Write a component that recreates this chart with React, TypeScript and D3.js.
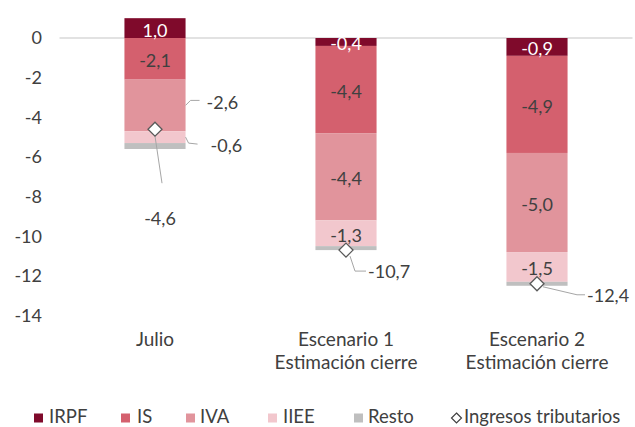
import React from "react";
import * as d3 from "d3";

// ---- data ----
const categories = ["Julio", "Escenario 1", "Escenario 2"];
const categoryLines = [["Julio"], ["Escenario 1", "Estimación cierre"], ["Escenario 2", "Estimación cierre"]];
const seriesNames = ["IRPF", "IS", "IVA", "IIEE", "Resto"];
const irpf = [1.0, -0.4, -0.9];
const is = [-2.1, -4.4, -4.9];
const iva = [-2.6, -4.4, -5.0];
const iiee = [-0.6, -1.3, -1.5];
const resto = [-0.3, -0.2, -0.2];
const totals = [-4.6, -10.7, -12.4];
const yTicks = [0, -2, -4, -6, -8, -10, -12, -14];
const totalLabel = "Ingresos tributarios";

const colors = ["#7F0A2B", "#D4606E", "#E1949C", "#F2C7CD", "#BFBFBF"];
const labelColors = ["#FFFFFF", "#404040", "#404040", "#404040", "#404040"];

const W = 635;
const H = 427;
const FONT = "Lato, 'Open Sans', sans-serif";
const TXT = "#404040";

const locale = d3.formatLocale({ decimal: ",", thousands: ".", grouping: [3], currency: ["", "€"], minus: "-" });
const fmt = locale.format(".1f");
const fmtAxis = locale.format("d");

export default function App() {
  const rows = categories.map((c, i) => ({
    cat: c,
    IRPF: irpf[i],
    IS: is[i],
    IVA: iva[i],
    IIEE: iiee[i],
    Resto: resto[i],
  }));
  const stacked = d3.stack<any>().keys(seriesNames).offset(d3.stackOffsetDiverging)(rows);

  const x = d3.scaleBand<string>().domain(categories).range([59.5, 632.5]).paddingInner(0.68).paddingOuter(0.34);
  const y = d3.scaleLinear().domain([-14, 0]).range([315.5, 38]);
  const bw = x.bandwidth();
  const cx = (c: string) => (x(c) as number) + bw / 2;

  // placement of some labels outside the bar (series index, category index) -> leader
  const outside: Record<string, { pts: [number, number][]; tx: number; ty: number }> = {
    "2-0": { pts: [[0, 0], [5, -5], [14, -5]], tx: 21, ty: -3 },
    "3-0": { pts: [[0, 0], [3, 6], [12, 7]], tx: 25, ty: 8 },
  };
  const totalLeaders = [
    { pts: [[0, 7], [7, 54]] as [number, number][], tx: 5, ty: 89, anchor: "middle" },
    { pts: [[4, 6], [9, 21], [20, 21]] as [number, number][], tx: 22, ty: 21, anchor: "start" },
    { pts: [[6, 3], [40, 11], [48, 11]] as [number, number][], tx: 50, ty: 12, anchor: "start" },
  ];

  const diamond = (px: number, py: number, rx: number, ry: number) =>
    `M${px},${py - ry}L${px + rx},${py}L${px},${py + ry}L${px - rx},${py}Z`;

  const legendSquares = [34, 121, 186, 268, 354];
  const legendTexts = [49, 137, 200, 283, 368];
  const legendBase = 423;

  return (
    <svg width={W} height={H} style={{ position: "absolute", left: 0, top: 0 }} fontFamily={FONT}>
      <rect width={W} height={H} fill="#fff" />
      {/* y axis labels */}
      {yTicks.map((t) => (
        <text key={t} x={42} y={y(t)} dy="0.36em" textAnchor="end" fontSize={18} fill={TXT}>
          {fmtAxis(t)}
        </text>
      ))}
      {/* zero line */}
      <line x1={59.5} x2={632.5} y1={y(0)} y2={y(0)} stroke="#D9D9D9" strokeWidth={1.5} />
      {/* bars */}
      {stacked.map((s, si) =>
        s.map((d, ci) => (
          <rect
            key={`${si}-${ci}`}
            x={x(categories[ci])}
            width={bw}
            y={y(Math.max(d[0], d[1]))}
            height={Math.abs(y(d[0]) - y(d[1]))}
            fill={colors[si]}
          />
        ))
      )}
      {/* data labels */}
      {stacked.map((s, si) =>
        si === 4
          ? null
          : s.map((d, ci) => {
              const mid = y((d[0] + d[1]) / 2);
              const val = (rows[ci] as any)[seriesNames[si]] as number;
              const key = `${si}-${ci}`;
              const o = outside[key];
              if (o) {
                const ex = (x(categories[ci]) as number) + bw;
                const pts = o.pts.map(([a, b]) => `${ex + a},${mid + b}`).join(" ");
                return (
                  <g key={key}>
                    <polyline points={pts} fill="none" stroke="#A6A6A6" strokeWidth={1} />
                    <text x={ex + o.tx} y={mid + o.ty} dy="0.36em" fontSize={18} fill={TXT}>
                      {fmt(val)}
                    </text>
                  </g>
                );
              }
              return (
                <text key={key} x={cx(categories[ci])} y={mid + 2} dy="0.36em" textAnchor="middle" fontSize={18} fill={labelColors[si]}>
                  {fmt(val)}
                </text>
              );
            })
      )}
      {/* totals */}
      {totals.map((t, ci) => {
        const px = cx(categories[ci]);
        const py = y(t);
        const L = totalLeaders[ci];
        const pts = L.pts.map(([a, b]) => `${px + a},${py + b}`).join(" ");
        return (
          <g key={`t${ci}`}>
            <polyline points={pts} fill="none" stroke="#A6A6A6" strokeWidth={1} />
            <path d={diamond(px, py, 7, 7)} fill="#fff" stroke="#595959" strokeWidth={1.3} />
            <text x={px + L.tx} y={py + L.ty} dy="0.36em" textAnchor={L.anchor as any} fontSize={18} fill={TXT}>
              {fmt(t)}
            </text>
          </g>
        );
      })}
      {/* category labels */}
      {categoryLines.map((lines, ci) => (
        <text key={`c${ci}`} x={cx(categories[ci])} y={346} textAnchor="middle" fontSize={19} fill={TXT}>
          {lines.map((l, li) => (
            <tspan key={li} x={cx(categories[ci])} y={346 + li * 23}>
              {l}
            </tspan>
          ))}
        </text>
      ))}
      {/* legend */}
      {seriesNames.map((n, i) => (
        <g key={`l${i}`}>
          <rect x={legendSquares[i]} y={legendBase - 9.5} width={9} height={9} fill={colors[i]} />
          <text x={legendTexts[i]} y={legendBase} fontSize={18.5} fill={TXT}>
            {n}
          </text>
        </g>
      ))}
      <path d={diamond(456.5, legendBase - 5, 5, 5)} fill="#fff" stroke="#404040" strokeWidth={1.2} />
      <text x={464} y={legendBase} fontSize={18.5} fill={TXT}>
        {totalLabel}
      </text>
    </svg>
  );
}
